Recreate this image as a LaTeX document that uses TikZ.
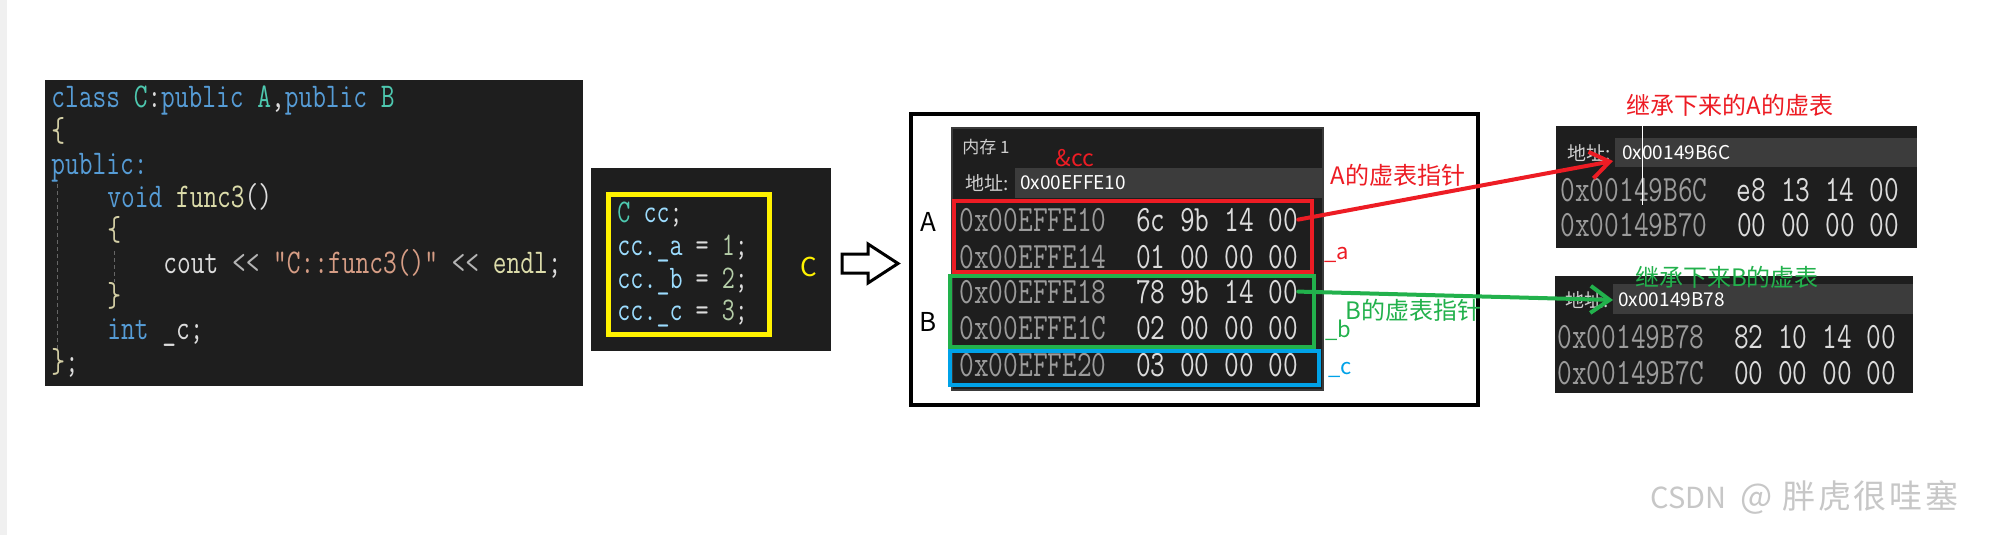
\documentclass[tikz,border=0pt]{standalone}
\usepackage{fontspec}
\newfontfamily\cjk{Noto Sans CJK SC}
\newfontfamily\wmcjk[LetterSpace=8]{Noto Sans CJK SC}
\usetikzlibrary{arrows.meta}
\definecolor{panel}{HTML}{1E1E1E}
\definecolor{panelline}{HTML}{3A3A3A}
\definecolor{addrbg}{HTML}{3C3C3C}
\definecolor{kw}{HTML}{569CD6}
\definecolor{ty}{HTML}{4EC9B0}
\definecolor{fn}{HTML}{DCDCAA}
\definecolor{st}{HTML}{D69D85}
\definecolor{tx}{HTML}{DCDCDC}
\definecolor{op}{HTML}{B4B4B4}
\definecolor{vr}{HTML}{9CDCFE}
\definecolor{nm}{HTML}{B5CEA8}
\definecolor{br}{HTML}{D4CFA5}
\definecolor{memaddr}{HTML}{9B9B9B}
\definecolor{uigray}{HTML}{CFCFCF}
\definecolor{mspred}{HTML}{ED1C24}
\definecolor{mspgreen}{HTML}{22B14C}
\definecolor{mspblue}{HTML}{00A2E8}
\definecolor{mspyellow}{HTML}{FFF200}
\newcommand\tallt[1]{\scalebox{1}[1.3]{#1}}
\begin{document}
\begin{tikzpicture}[x=0.5pt,y=-0.5pt,
  code/.style={anchor=base west,inner sep=0pt,text=tx,font=\fontsize{13.33}{16}\ttfamily},
  cccode/.style={anchor=base west,inner sep=0pt,text=tx,font=\fontsize{12.67}{15}\ttfamily},
  memrow/.style={anchor=base west,inner sep=0pt,text=tx,font=\fontsize{14.29}{17}\ttfamily},
  ui/.style={anchor=west,inner sep=0pt,text=uigray,font=\fontsize{9.5}{11}\cjk},
  note/.style={inner sep=0pt,font=\fontsize{12}{14}\cjk},
  paintbox/.style={line width=2pt},
  paintarrow/.style={line width=2pt,line cap=round,line join=round,-{Straight Barb[length=9.5pt,width=13.5pt]}}]
  \useasboundingbox (0,0) rectangle (1990,535);
  \fill[white] (0,0) rectangle (1990,535);
  \fill[black!6] (0,0) rectangle (7,535);
  % class C source
  \fill[panel] (45,80) rectangle (583,386);
  \draw[black!60,line width=0.5pt,dash pattern=on 2pt off 1.5pt] (57,184) -- (57,350);
  \draw[black!60,line width=0.5pt,dash pattern=on 2pt off 1.5pt] (114,251) -- (114,282);
  \node[code] (cl1) at (51,108) {\tallt{\textcolor{kw}{class} \textcolor{ty}{C}:\textcolor{kw}{public} \textcolor{ty}{A},\textcolor{kw}{public} \textcolor{ty}{B}}};
  \node[code] (cl2) at (51,141) {\tallt{\textcolor{br}{\{}}};
  \node[code] (cl3) at (51,174) {\tallt{\textcolor{kw}{public:}}};
  \node[code] (cl4) at (107,207) {\tallt{\textcolor{kw}{void} \textcolor{fn}{func3}()}};
  \node[code] (cl5) at (107,240) {\tallt{\textcolor{br}{\{}}};
  \node[code] (cl6) at (163,273) {\tallt{cout \textcolor{op}{<<} \textcolor{st}{"C::func3()"} \textcolor{op}{<<} \textcolor{fn}{endl};}};
  \node[code] (cl7) at (107,306) {\tallt{\textcolor{br}{\}}}};
  \node[code] (cl8) at (107,339) {\tallt{\textcolor{kw}{int} \_c;}};
  \node[code] (cl9) at (51,372) {\tallt{\textcolor{br}{\}};}};
  % object cc
  \fill[panel] (591,168) rectangle (831,351);
  \draw[mspyellow,line width=2.5pt] (608.5,194.5) rectangle (769.5,334.5);
  \node[cccode] (cc1) at (617,222) {\tallt{\textcolor{ty}{C} \textcolor{vr}{cc};}};
  \node[cccode] (cc2) at (617,255) {\tallt{\textcolor{vr}{cc.\_a} = \textcolor{nm}{1};}};
  \node[cccode] (cc3) at (617,288) {\tallt{\textcolor{vr}{cc.\_b} = \textcolor{nm}{2};}};
  \node[cccode] (cc4) at (617,320) {\tallt{\textcolor{vr}{cc.\_c} = \textcolor{nm}{3};}};
  \node[note,text=mspyellow,font=\fontsize{13}{15}\cjk] (cname) at (809,267) {C};
  \draw[line width=1.5pt,line join=miter,fill=white] (842,254) -- (868,254) -- (868,244) -- (898,263.5) -- (868,283) -- (868,273) -- (842,273) -- cycle;
  % memory window
  \draw[line width=2pt] (911,114) rectangle (1478,405);
  \fill[panel,draw=panelline,line width=1pt] (952,128) rectangle (1323,390);
  \fill[addrbg] (1015,168) rectangle (1323,198);
  \node[ui,font=\fontsize{8.5}{10}\cjk] (memtitle) at (962,147) {内存 1};
  \node[note,anchor=west,text=mspred,font=\fontsize{11.5}{13}\cjk] (ccaddr) at (1055,158) {\&cc};
  \node[ui] (addrlbl) at (965,183) {地址:};
  \node[ui,text=white] (addr) at (1020,183) {0x00EFFE10};
  \node[memrow] (a1) at (959,231) {\tallt{\textcolor{memaddr}{0x00EFFE10}~~6c 9b 14 00}};
  \node[memrow] (a2) at (959,268) {\tallt{\textcolor{memaddr}{0x00EFFE14}~~01 00 00 00}};
  \node[memrow] (b1) at (959,303) {\tallt{\textcolor{memaddr}{0x00EFFE18}~~78 9b 14 00}};
  \node[memrow] (b2) at (959,339) {\tallt{\textcolor{memaddr}{0x00EFFE1C}~~02 00 00 00}};
  \node[memrow] (c1) at (959,376) {\tallt{\textcolor{memaddr}{0x00EFFE20}~~03 00 00 00}};
  \draw[paintbox,mspred] (954,201) rectangle (1312,272);
  \draw[paintbox,mspgreen] (950,276) rectangle (1314,347);
  \draw[paintbox,mspblue] (950,351) rectangle (1319,385);
  \node[note,font=\fontsize{13}{15}\cjk] (labA) at (928,222) {A};
  \node[note,font=\fontsize{13}{15}\cjk] (labB) at (928,322) {B};
  \node[note,anchor=west,text=mspred] (vptrA) at (1330,175) {A的虚表指针};
  \node[note,text=mspred,font=\fontsize{11}{13}\cjk] (fa) at (1337,255) {\_a};
  \node[note,anchor=west,text=mspgreen] (vptrB) at (1345,310) {B的虚表指针};
  \node[note,text=mspgreen,font=\fontsize{11}{13}\cjk] (fb) at (1338,330) {\_b};
  \node[note,text=mspblue,font=\fontsize{11}{13}\cjk] (fc) at (1340,370) {\_c};
  % vtable of A
  \fill[panel] (1556,126) rectangle (1917,248);
  \fill[addrbg] (1615,138) rectangle (1917,167);
  \node[ui] (vtAlbl) at (1567,153) {地址:};
  \node[ui,text=white] (vtAaddr) at (1622,153) {0x00149B6C};
  \node[memrow] (vtA1) at (1560,201) {\tallt{\textcolor{memaddr}{0x00149B6C}~~e8 13 14 00}};
  \node[memrow] (vtA2) at (1560,236) {\tallt{\textcolor{memaddr}{0x00149B70}~~00 00 00 00}};
  \draw[white,line width=0.5pt] (1642,126) -- (1642,205);
  \node[note,text=mspred] (vtAtitle) at (1730,105) {继承下来的A的虚表};
  % vtable of B
  \fill[panel] (1555,276) rectangle (1913,393);
  \fill[addrbg] (1613,284) rectangle (1913,314);
  \node[ui] (vtBlbl) at (1565,300) {地址:};
  \node[ui,text=white] (vtBaddr) at (1618,300) {0x00149B78};
  \node[memrow] (vtB1) at (1557,348) {\tallt{\textcolor{memaddr}{0x00149B78}~~82 10 14 00}};
  \node[memrow] (vtB2) at (1557,384) {\tallt{\textcolor{memaddr}{0x00149B7C}~~00 00 00 00}};
  \node[note,text=mspgreen] (vtBtitle) at (1727,277) {继承下来B的虚表};
  % pointers
  \coordinate (vtAin) at (1613,161);
  \coordinate (vtBin) at (1613,300);
  \draw[paintarrow,mspred] (a1.east) -- (vtAin);
  \draw[paintarrow,mspgreen] (b1.east) -- (vtBin);
  \node[anchor=west,inner sep=0pt,text=black!22,font=\fontsize{14.5}{17}\cjk] (wm) at (1650,497) {CSDN\hspace{7pt}{\fontsize{17}{18}\selectfont @}\hspace{5pt}{\wmcjk\fontsize{16.5}{18}\selectfont 胖虎很哇塞}};
\end{tikzpicture}
\end{document}
